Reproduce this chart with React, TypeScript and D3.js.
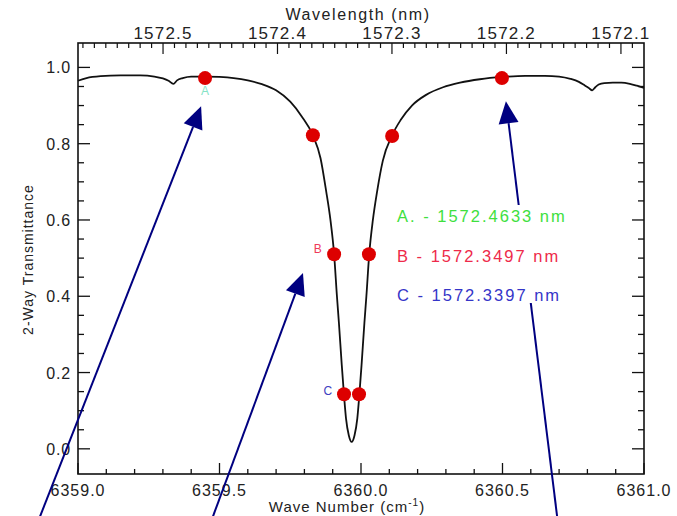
import React from "react";
import * as d3 from "d3";

// ---- data ----
const waveNumber = [
  6359.0, 6359.03, 6359.08, 6359.15, 6359.22, 6359.27, 6359.3, 6359.32, 6359.337, 6359.35,
  6359.37, 6359.4, 6359.45, 6359.5, 6359.55, 6359.6, 6359.65, 6359.7, 6359.75, 6359.79,
  6359.83, 6359.857, 6359.877, 6359.892, 6359.905, 6359.915, 6359.922, 6359.932, 6359.94, 6359.947,
  6359.957, 6359.967, 6359.977, 6359.987, 6359.994, 6360.002, 6360.012, 6360.019, 6360.029, 6360.042,
  6360.057, 6360.077, 6360.11, 6360.14, 6360.18, 6360.23, 6360.29, 6360.35, 6360.42, 6360.5,
  6360.58, 6360.65, 6360.7, 6360.74, 6360.77, 6360.79, 6360.805, 6360.817, 6360.828, 6360.84,
  6360.86, 6360.89, 6360.92, 6360.95, 6360.975, 6361.0,
];
const transmittance = [
  0.965, 0.972, 0.977, 0.979, 0.979, 0.976, 0.971, 0.965, 0.957, 0.966,
  0.972, 0.976, 0.976, 0.975, 0.972, 0.966, 0.956, 0.94, 0.91, 0.872,
  0.822, 0.762, 0.675, 0.6, 0.51, 0.4, 0.33, 0.22, 0.14, 0.08,
  0.035, 0.018, 0.035, 0.08, 0.14, 0.22, 0.33, 0.4, 0.51, 0.6,
  0.675, 0.755, 0.822, 0.862, 0.9, 0.928, 0.948, 0.96, 0.969, 0.975,
  0.978, 0.978, 0.976, 0.97, 0.962, 0.953, 0.946, 0.94, 0.948, 0.955,
  0.959, 0.96, 0.96, 0.957, 0.952, 0.946,
];

const markerWaveNumber = [6359.449, 6359.83, 6359.905, 6359.94, 6359.993, 6360.028, 6360.11, 6360.498];
const markerTransmittance = [0.972, 0.822, 0.51, 0.143, 0.143, 0.51, 0.82, 0.972];

const pointLabels = ["A", "B", "C"];
const pointLabelWaveNumber = [6359.449, 6359.847, 6359.883];
const pointLabelTransmittance = [0.928, 0.513, 0.14];
const pointLabelColors = ["#86e3c6", "#ee3a5a", "#4040c0"];

const legendLabels = ["A. - 1572.4633 nm", "B - 1572.3497 nm", "C - 1572.3397 nm"];
const legendColors = ["#3ee03e", "#ee2a4a", "#3535c8"];

const bottomMajor = [6359.0, 6359.5, 6360.0, 6360.5, 6361.0];
const topMajor = [1572.5, 1572.4, 1572.3, 1572.2, 1572.1];
const yMajor = [0.0, 0.2, 0.4, 0.6, 0.8, 1.0];

// arrows: tail -> tip in data units
const arrowTailWaveNumber = [6358.866, 6359.477, 6360.693];
const arrowTailTransmittance = [-0.177, -0.177, -0.177];
const arrowTipWaveNumber = [6359.435, 6359.795, 6360.512];
const arrowTipTransmittance = [0.898, 0.461, 0.911];

const W = 677;
const H = 516;
const left = 78;
const right = 644;
const top = 43;
const bottom = 474;
const font = "'Liberation Sans', Arial, sans-serif";

export default function App() {
  const x = d3.scaleLinear().domain([6359, 6361]).range([left, right]);
  const y = d3.scaleLinear().domain([-0.066, 1.064]).range([bottom, top]);
  const xl = (lam: number) => x(1e7 / lam);

  const line = d3
    .line<number>()
    .x((_, i) => x(waveNumber[i]))
    .y((d) => y(d))
    .curve(d3.curveMonotoneX);

  const bottomMinor = d3.range(6359.0, 6361.0001, 0.1).map((v) => Math.round(v * 10) / 10);
  const topMinor = d3
    .range(1572.09, 1572.58, 0.01)
    .map((v) => Math.round(v * 100) / 100)
    .filter((l) => {
      const px = xl(l);
      return px >= left && px <= right;
    });
  const yMinor = d3.range(0, 1.0001, 0.05).map((v) => Math.round(v * 100) / 100);

  const arrows = arrowTipWaveNumber.map((_, i) => {
    const x1 = x(arrowTailWaveNumber[i]);
    const y1 = y(arrowTailTransmittance[i]);
    const x2 = x(arrowTipWaveNumber[i]);
    const y2 = y(arrowTipTransmittance[i]);
    const dx = x2 - x1;
    const dy = y2 - y1;
    const len = Math.hypot(dx, dy);
    const ux = dx / len;
    const uy = dy / len;
    const hl = 22;
    const hw = 10;
    const bx = x2 - ux * hl;
    const by = y2 - uy * hl;
    const pts = [
      [x2, y2],
      [bx - uy * hw, by + ux * hw],
      [bx + uy * hw, by - ux * hw],
    ];
    return { x1, y1, bx, by, pts };
  });

  return (
    <svg
      width={W}
      height={H}
      style={{ position: "absolute", left: 0, top: 0, background: "#fff" }}
      fontFamily={font}
    >
      <rect x={0} y={0} width={W} height={H} fill="#fff" />

      {/* frame */}
      <rect x={left} y={top} width={right - left} height={bottom - top} fill="none" stroke="#111" strokeWidth={1.6} />

      {/* bottom axis ticks */}
      {bottomMinor.map((v) => {
        const major = bottomMajor.some((m) => Math.abs(m - v) < 1e-6);
        return (
          <line key={"b" + v} x1={x(v)} x2={x(v)} y1={bottom} y2={bottom - (major ? 11 : 5)} stroke="#111" strokeWidth={1.3} />
        );
      })}
      {bottomMajor.map((v) => (
        <text key={"bl" + v} x={x(v)} y={496} textAnchor="middle" fontSize={16} letterSpacing={1} fill="#222">
          {v.toFixed(1)}
        </text>
      ))}
      <text x={347} y={512} textAnchor="middle" fontSize={15} letterSpacing={1} fill="#222">
        Wave Number (cm
        <tspan dy={-6} fontSize={10}>-1</tspan>
        <tspan dy={6}>)</tspan>
      </text>

      {/* top axis */}
      {topMinor.map((l) => {
        const major = topMajor.some((m) => Math.abs(m - l) < 1e-6);
        return (
          <line key={"t" + l} x1={xl(l)} x2={xl(l)} y1={top} y2={top + (major ? 11 : 5)} stroke="#111" strokeWidth={1.2} />
        );
      })}
      {topMajor.map((l) => (
        <text key={"tl" + l} x={xl(l)} y={39} textAnchor="middle" fontSize={17} letterSpacing={1.2} fill="#222">
          {l.toFixed(1)}
        </text>
      ))}
      <text x={358} y={20} textAnchor="middle" fontSize={16} letterSpacing={1.6} fill="#222">
        Wavelength (nm)
      </text>

      {/* y axes */}
      {yMinor.map((v) => {
        const major = yMajor.some((m) => Math.abs(m - v) < 1e-6);
        const len = major ? 12 : 6;
        return (
          <g key={"y" + v}>
            <line x1={left} x2={left + len} y1={y(v)} y2={y(v)} stroke="#111" strokeWidth={1.3} />
            <line x1={right} x2={right - len} y1={y(v)} y2={y(v)} stroke="#111" strokeWidth={1.3} />
          </g>
        );
      })}
      {yMajor.map((v) => (
        <text key={"yl" + v} x={71} y={y(v) + 6} textAnchor="end" fontSize={16} letterSpacing={0.8} fill="#222">
          {v.toFixed(1)}
        </text>
      ))}
      <text
        transform={`translate(33,${(top + bottom) / 2 + 1}) rotate(-90)`}
        textAnchor="middle"
        fontSize={14}
        letterSpacing={1}
        fill="#222"
      >
        2-Way Transmittance
      </text>

      {/* curve */}
      <path d={line(transmittance) || ""} fill="none" stroke="#111" strokeWidth={1.8} />

      {/* point labels */}
      {pointLabels.map((t, i) => (
        <text
          key={t}
          x={x(pointLabelWaveNumber[i])}
          y={y(pointLabelTransmittance[i])}
          textAnchor="middle"
          fontSize={12}
          fill={pointLabelColors[i]}
        >
          {t}
        </text>
      ))}

      {/* red markers */}
      {markerWaveNumber.map((v, i) => (
        <circle key={"m" + i} cx={x(v)} cy={y(markerTransmittance[i])} r={7} fill="#dd0000" />
      ))}

      {/* arrows */}
      {arrows.map((a, i) => (
        <g key={"a" + i}>
          <line x1={a.x1} y1={a.y1} x2={a.bx} y2={a.by} stroke="#000080" strokeWidth={2} />
          <polygon points={a.pts.map((p) => p.join(",")).join(" ")} fill="#000080" />
        </g>
      ))}

      {/* legend (white box hides arrow behind) */}
      <rect x={392} y={205} width={200} height={98} fill="#fff" />
      {legendLabels.map((t, i) => (
        <text key={t} x={397} y={222 + i * 39.5} fontSize={16.5} letterSpacing={2} fill={legendColors[i]}>
          {t}
        </text>
      ))}
    </svg>
  );
}
